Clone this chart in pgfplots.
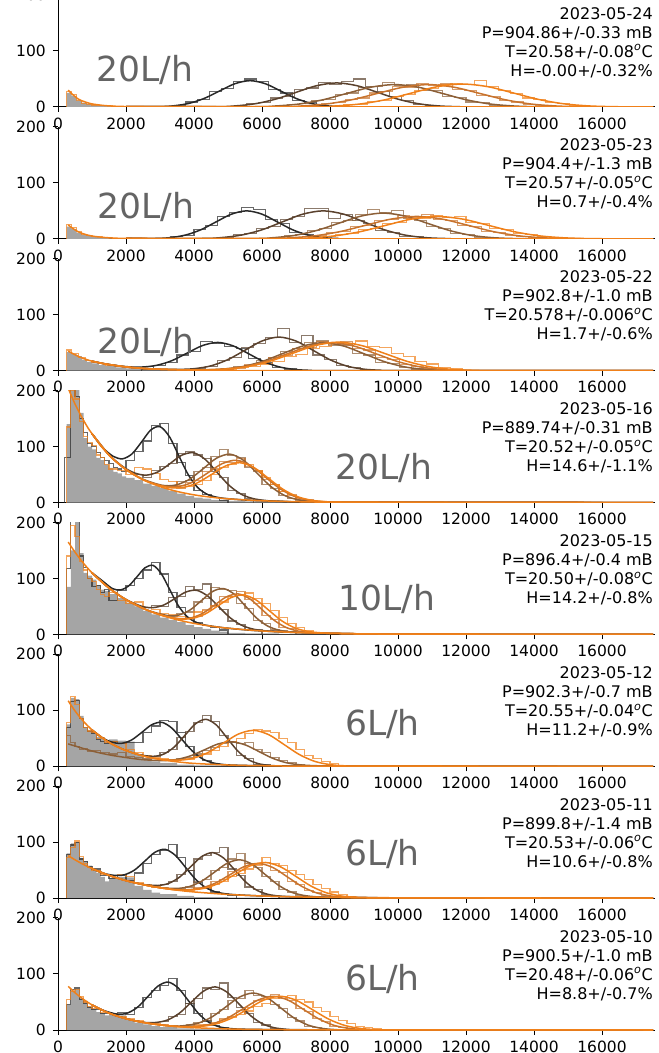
\documentclass[border=0pt]{standalone}
\usepackage{fontspec}
\setmainfont{DejaVu Sans}
\usepackage{pgfplots}
\pgfplotsset{compat=1.18}
\definecolor{c0}{RGB}{40,40,40}
\definecolor{c1}{RGB}{90,65,45}
\definecolor{c2}{RGB}{140,95,55}
\definecolor{c3}{RGB}{200,115,45}
\definecolor{c4}{RGB}{240,128,25}
\definecolor{gfill}{RGB}{165,165,165}
\definecolor{lab}{RGB}{100,100,100}
\pgfplotsset{
  panel/.style={scale only axis, width=596.7pt, height=112pt, anchor=south west,
    xmin=0, xmax=17550, ymin=0, ymax=200,
    axis x line*=bottom, axis y line*=left, axis line style={-, line width=1pt, black},
    xtick={0,2000,...,16000}, ytick={0,100,200},
    tick pos=left, tick align=outside, major tick length=5pt,
    tick style={line width=1pt, black},
    scaled x ticks=false,
    /pgf/number format/1000 sep={}, /pgf/number format/assume math mode=true,
    tick label style={font=\fontsize{15.5}{18}\selectfont, inner sep=1pt},
    xticklabel style={yshift=-4.5pt, text depth=0pt}, yticklabel style={xshift=-6pt},
    clip=true},
  h0/.style={const plot, draw=c0, line width=1.1pt, draw opacity=0.7, mark=none},
  h1/.style={const plot, draw=c1, line width=1.1pt, draw opacity=0.7, mark=none},
  h2/.style={const plot, draw=c2, line width=1.1pt, draw opacity=0.7, mark=none},
  h3/.style={const plot, draw=c3, line width=1.1pt, draw opacity=0.7, mark=none},
  h4/.style={const plot, draw=c4, line width=1.1pt, draw opacity=0.7, mark=none},
  f0/.style={smooth, draw=c0, line width=1.5pt, mark=none},
  f1/.style={smooth, draw=c1, line width=1.5pt, mark=none},
  f2/.style={smooth, draw=c2, line width=1.5pt, mark=none},
  f3/.style={smooth, draw=c3, line width=1.5pt, mark=none},
  f4/.style={smooth, draw=c4, line width=1.5pt, mark=none},
  gr/.style={const plot, fill=gfill, draw=none, mark=none},
}
\newcommand{\info}[4]{\node[anchor=north east, align=right, inner sep=0pt, font=\fontsize{16}{19}\selectfont] at (rel axis cs:0.997,0.893) {#1\\#2\\#3\\#4};}
\newcommand{\lbl}[3]{\node[anchor=base west, inner sep=0pt, text=lab, font=\fontsize{34.5}{36}\selectfont] at (axis cs:#1,#2) {#3};}
\newcommand{\degC}{\textsuperscript{\itshape o}C}
\begin{document}
\begin{tikzpicture}
% ---------------- Panel 1 ----------------
\begin{axis}[panel, at={(58pt,946pt)}]
\addplot[gr] coordinates {(250,0)(250,25)(400,20)(550,12)(700,8)(850,6)(1000,4)(1150,3)(1300,2)(1450,1.5)(1600,1)(2000,0.5)(4000,0)} \closedcycle;
\addplot[h4] coordinates {(250,0)(250,28)(400,22)(550,12)(700,7)(850,5)(1000,3)(1300,2)(1600,1)(2200,0.5)(3000,0)};
\addplot[h0] coordinates {(3400,0)(3400,3)(3750,9)(4100,13)(4450,27)(4800,33)(5150,46)(5500,50)(5850,45)(6200,31)(6550,25)(6900,12)(7250,8)(7600,2)(7950,0)};
\addplot[h1] coordinates {(5200,0)(5200,3)(5550,6)(5900,8)(6250,16)(6600,19)(6950,31)(7300,34)(7650,44)(8000,40)(8350,45)(8700,50)(9050,36)(9400,27)(9750,18)(10100,11)(10450,5)(10800,3)(11150,0)};
\addplot[h2] coordinates {(6400,0)(6400,2)(6750,5)(7100,6)(7450,12)(7800,14)(8150,23)(8500,25)(8850,35)(9200,36)(9550,43)(9900,38)(10250,40)(10600,30)(10950,29)(11300,19)(11650,17)(12000,9)(12350,8)(12700,3)(13050,2)(13400,0)};
\addplot[h3] coordinates {(7400,0)(7400,3)(7750,7)(8100,8)(8450,14)(8800,16)(9150,25)(9500,27)(9850,36)(10200,35)(10550,42)(10900,38)(11250,41)(11600,31)(11950,30)(12300,21)(12650,19)(13000,11)(13350,9)(13700,4)(14050,3)(14400,0)};
\addplot[h4] coordinates {(8400,0)(8400,4)(8750,5)(9100,10)(9450,12)(9800,19)(10150,22)(10500,30)(10850,33)(11200,40)(11550,41)(11900,40)(12250,48)(12600,36)(12950,30)(13300,24)(13650,16)(14000,13)(14350,8)(14700,6)(15050,2)(15400,0)};
\addplot[f0] coordinates {(2000,0.7)(2950,0.5)(3400,2.1)(3850,6.4)(4300,15.3)(4750,28.5)(5200,41.5)(5650,47)(6100,41.5)(6550,28.5)(7000,15.3)(7450,6.4)(7900,2.1)(8350,0.5)(8800,0.1)(17500,0)};
\addplot[f1] coordinates {(2000,0.7)(4600,0.5)(5200,1.9)(5800,5.8)(6400,14)(7000,26.1)(7600,37.9)(8200,43)(8800,37.9)(9400,26.1)(10000,14)(10600,5.8)(11200,1.9)(11800,0.5)(12400,0.1)(17500,0)};
\addplot[f2] coordinates {(2000,0.7)(5700,0.4)(6400,1.8)(7100,5.4)(7800,13)(8500,24.3)(9200,35.3)(9900,40)(10600,35.3)(11300,24.3)(12000,13)(12700,5.4)(13400,1.8)(14100,0.4)(14800,0.1)(17500,0)};
\addplot[f3] coordinates {(2000,0.7)(6400,0.4)(7150,1.8)(7900,5.4)(8650,13)(9400,24.3)(10150,35.3)(10900,40)(11650,35.3)(12400,24.3)(13150,13)(13900,5.4)(14650,1.8)(15400,0.4)(16150,0.1)(17500,0)};
\addplot[f4] coordinates {(2000,0.7)(7400,0.5)(8150,1.8)(8900,5.5)(9650,13.3)(10400,24.9)(11150,36.2)(11900,41)(12650,36.2)(13400,24.9)(14150,13.3)(14900,5.5)(15650,1.8)(16400,0.5)(17150,0.1)(17500,0)};
\addplot[f4] coordinates {(300,30)(400,24)(600,14)(800,9)(1000,5.5)(1300,3)(1600,1.6)(2000,0.8)(3000,0.3)(6000,0.2)(17500,0)};
\lbl{1130}{45}{20L/h}
\info{2023-05-24}{P=904.86+/-0.33 mB}{T=20.58+/-0.08\degC}{H=-0.00+/-0.32\%}
\end{axis}
% ---------------- Panel 2 ----------------
\begin{axis}[panel, at={(58pt,814.14pt)}]
\addplot[gr] coordinates {(250,0)(250,22)(400,18)(550,11)(700,7)(850,5)(1000,3)(1200,2)(1500,1)(2000,0.5)(3000,0)} \closedcycle;
\addplot[h4] coordinates {(250,0)(250,25)(400,20)(550,13)(700,8)(850,6)(1000,4)(1300,2)(1600,1)(2200,0.5)(3000,0)};
\addplot[h0] coordinates {(3300,0)(3300,4)(3650,6)(4000,17)(4350,24)(4700,40)(5050,47)(5400,56)(5750,52)(6100,34)(6450,27)(6800,12)(7150,8)(7500,3)(7850,0)};
\addplot[h1] coordinates {(4800,0)(4800,3)(5150,7)(5500,9)(5850,18)(6200,22)(6550,35)(6900,40)(7250,54)(7600,55)(7950,36)(8300,44)(8650,33)(9000,28)(9350,15)(9700,12)(10050,5)(10400,4)(10750,0)};
\addplot[h2] coordinates {(6300,0)(6300,2)(6650,6)(7000,8)(7350,15)(7700,18)(8050,29)(8400,32)(8750,44)(9100,52)(9450,47)(9800,50)(10150,36)(10500,33)(10850,22)(11200,19)(11550,10)(11900,8)(12250,3)(12600,2)(12950,0)};
\addplot[h3] coordinates {(6850,0)(6850,2)(7200,5)(7550,6)(7900,12)(8250,13)(8600,22)(8950,24)(9300,33)(9650,34)(10000,41)(10350,38)(10700,43)(11050,35)(11400,33)(11750,24)(12100,22)(12450,13)(12800,12)(13150,6)(13500,5)(13850,2)(14200,0)};
\addplot[h4] coordinates {(7450,0)(7450,3)(7800,4)(8150,8)(8500,10)(8850,16)(9200,19)(9550,27)(9900,29)(10250,37)(10600,37)(10950,42)(11300,38)(11650,40)(12000,30)(12350,28)(12700,19)(13050,17)(13400,10)(13750,8)(14100,4)(14450,2)(14800,0)};
\addplot[f0] coordinates {(2000,0.7)(2850,0.6)(3300,2.2)(3750,6.8)(4200,16.2)(4650,30.3)(5100,44.1)(5550,50)(6000,44.1)(6450,30.3)(6900,16.2)(7350,6.8)(7800,2.2)(8250,0.6)(8700,0.1)(17500,0)};
\addplot[f1] coordinates {(2000,0.7)(4200,0.6)(4800,2.2)(5400,6.8)(6000,16.2)(6600,30.3)(7200,44.1)(7800,50)(8400,44.1)(9000,30.3)(9600,16.2)(10200,6.8)(10800,2.2)(11400,0.6)(12000,0.1)(17500,0)};
\addplot[f2] coordinates {(2000,0.7)(5660,0.5)(6310,2)(6960,6.2)(7610,15)(8260,27.9)(8910,40.6)(9560,46)(10210,40.6)(10860,27.9)(11510,15)(12160,6.2)(12810,2)(13460,0.5)(14110,0.1)(17500,0)};
\addplot[f3] coordinates {(2000,0.7)(6050,0.4)(6800,1.8)(7550,5.4)(8300,13)(9050,24.3)(9800,35.3)(10550,40)(11300,35.3)(12050,24.3)(12800,13)(13550,5.4)(14300,1.8)(15050,0.4)(15800,0.1)(17500,0)};
\addplot[f4] coordinates {(2000,0.7)(6650,0.4)(7400,1.8)(8150,5.4)(8900,13)(9650,24.3)(10400,35.3)(11150,40)(11900,35.3)(12650,24.3)(13400,13)(14150,5.4)(14900,1.8)(15650,0.4)(16400,0.1)(17500,0)};
\addplot[f4] coordinates {(300,25)(400,20)(600,12.5)(800,8)(1000,5)(1300,2.8)(1600,1.5)(2000,0.7)(3000,0.3)(6000,0.2)(17500,0)};
\lbl{1150}{37}{20L/h}
\info{2023-05-23}{P=904.4+/-1.3 mB}{T=20.57+/-0.05\degC}{H=0.7+/-0.4\%}
\end{axis}
% ---------------- Panel 3 ----------------
\begin{axis}[panel, at={(58pt,682.28pt)}]
\addplot[gr] coordinates {(250,0)(250,33)(400,30)(550,26)(700,20)(850,16)(1000,13)(1200,10)(1400,8)(1700,6)(2000,4)(2500,2)(3000,1)(4000,0.3)(5000,0)} \closedcycle;
\addplot[h4] coordinates {(250,0)(250,37)(400,30)(600,24)(800,19)(1000,15)(1200,13)(1400,10)(1700,8)(2000,6)(2400,4)(3000,2)(3800,0)};
\addplot[h0] coordinates {(2450,0)(2450,3)(2800,9)(3150,14)(3500,28)(3850,35)(4200,52)(4550,48)(4900,44)(5250,40)(5600,22)(5950,15)(6300,6)(6650,3)(7000,0)};
\addplot[h1] coordinates {(4000,0)(4000,4)(4350,7)(4700,18)(5050,24)(5400,42)(5750,48)(6100,60)(6450,76)(6800,50)(7150,63)(7500,28)(7850,20)(8200,9)(8550,6)(8900,2)(9250,0)};
\addplot[h2] coordinates {(4800,0)(4800,2)(5150,8)(5500,9)(5850,19)(6200,23)(6550,35)(6900,39)(7250,50)(7600,53)(7950,45)(8300,46)(8650,31)(9000,28)(9350,15)(9700,13)(10050,5)(10400,3)(10750,0)};
\addplot[h3] coordinates {(4800,0)(4800,3)(5150,4)(5500,11)(5850,13)(6200,24)(6550,27)(6900,40)(7250,42)(7600,52)(7950,47)(8300,52)(8650,40)(9000,37)(9350,24)(9700,20)(10050,11)(10400,8)(10750,3)(11100,2)(11450,0)};
\addplot[h4] coordinates {(4900,0)(4900,2)(5250,5)(5600,7)(5950,12)(6300,16)(6650,25)(7000,29)(7350,40)(7700,44)(8050,50)(8400,48)(8750,53)(9100,43)(9450,41)(9800,31)(10150,25)(10500,16)(10850,12)(11200,6)(11550,3)(11900,0)};
\addplot[f0] coordinates {(1000,17)(1400,12)(2000,7.3)(2450,6.5)(2900,9.6)(3350,18)(3800,31.5)(4250,44.9)(4700,50.5)(5150,44.4)(5600,30.5)(6050,16.3)(6500,6.9)(6950,2.3)(7400,0.7)(7850,0.2)(17500,0)};
\addplot[f1] coordinates {(1000,17)(1400,12)(2000,6.7)(2500,4)(3000,2.6)(3500,2.3)(4000,3.6)(4500,8.7)(5000,19.9)(5500,36.6)(6000,53.1)(6500,60.1)(7000,53)(7500,36.5)(8000,19.6)(8500,8.2)(9000,2.7)(9500,0.8)(10000,0.2)(17500,0)};
\addplot[f2] coordinates {(1000,17)(1400,12)(2000,6.7)(2500,4)(3000,2.6)(3600,1.6)(4200,1.4)(4800,2.7)(5400,7)(6000,16.4)(6600,30.4)(7200,44.1)(7800,50)(8400,44.1)(9000,30.3)(9600,16.2)(10200,6.8)(10800,2.2)(11400,0.6)(12000,0.1)(17500,0)};
\addplot[f3] coordinates {(1000,17)(1400,12)(2000,6.7)(2500,4)(3000,2.6)(3600,1.6)(4150,1.5)(4800,2.7)(5450,7)(6100,16.3)(6750,30.3)(7400,44.1)(8050,50)(8700,44.1)(9350,30.3)(10000,16.2)(10650,6.8)(11300,2.2)(11950,0.6)(12600,0.1)(17500,0)};
\addplot[f4] coordinates {(1000,17)(1400,12)(2000,6.7)(2500,4)(3000,2.6)(3600,1.6)(4200,1.4)(4875,2.6)(5550,7.1)(6225,16.7)(6900,31)(7575,45)(8250,51)(8925,45)(9600,31)(10275,16.6)(10950,6.9)(11625,2.2)(12300,0.6)(12975,0.1)(17500,0)};
\addplot[f4] coordinates {(300,35)(500,28.5)(700,23)(1000,17)(1400,12)(1800,8.5)(2200,5.7)(2800,3.2)(3500,1.7)(4500,0.6)(6000,0.2)(17500,0)};
\lbl{1150}{31.6}{20L/h}
\info{2023-05-22}{P=902.8+/-1.0 mB}{T=20.578+/-0.006\degC}{H=1.7+/-0.6\%}
\end{axis}
% ---------------- Panel 4 ----------------
\begin{axis}[panel, at={(58pt,550.42pt)}]
\addplot[gr] coordinates {(250,0)(250,140)(375,230)(500,215)(625,160)(750,115)(875,100)(1000,95)(1125,80)(1250,76)(1375,68)(1500,62)(1625,55)(1750,52)(1875,47)(2000,44)(2250,40)(2500,34)(2750,30)(3000,26)(3250,21)(3500,16)(3750,12)(4000,9)(4250,7)(4500,5)(5000,3)(5500,2)(6000,1)(7000,0.5)(8000,0)} \closedcycle;
\addplot[h0] coordinates {(200,0)(200,80)(375,215)(500,190)(625,150)(750,125)(875,105)(1000,100)(1125,90)(1250,80)(1375,75)(1500,70)(1625,62)(1750,60)(1875,55)(2000,75)(2250,92)(2500,110)(2750,138)(3000,142)(3250,105)(3500,72)(3750,48)(4000,22)(4250,14)(4500,9)(4750,4)(5000,0)};
\addplot[h1] coordinates {(2250,50)(2500,45)(2750,58)(3000,65)(3250,70)(3500,88)(3750,92)(4000,85)(4250,78)(4500,55)(4750,44)(5000,22)(5250,17)(5500,8)(5750,0)};
\addplot[h2] coordinates {(3000,30)(3250,28)(3500,37)(3750,40)(4000,56)(4250,62)(4500,82)(4750,94)(5000,84)(5250,80)(5500,62)(5750,55)(6000,33)(6250,25)(6500,12)(6750,8)(7000,4)(7250,0)};
\addplot[h3] coordinates {(3000,29)(3250,30)(3500,25)(3750,36)(4000,40)(4250,55)(4500,60)(4750,74)(5000,72)(5250,78)(5500,65)(5750,58)(6000,42)(6250,33)(6500,19)(6750,14)(7000,6)(7250,5)(7500,2)(7750,0)};
\addplot[h4] coordinates {(250,0)(250,135)(375,200)(500,185)(625,145)(750,118)(875,108)(1000,102)(1125,85)(1250,80)(1375,68)(1500,60)(1750,58)(2000,50)(2250,62)(2500,60)(2750,52)(3000,42)(3250,38)(3500,30)(3750,28)(4000,33)(4250,40)(4500,50)(4750,62)(5000,68)(5250,74)(5500,68)(5750,58)(6000,44)(6250,33)(6500,20)(6750,13)(7000,7)(7250,4)(7500,2)(7750,1)(8000,0)};
\addplot[f0] coordinates {(1000,123)(1300,99)(1625,82.5)(1900,78.2)(2175,86.9)(2450,107.6)(2725,129.4)(3000,135.6)(3275,117.8)(3550,84.1)(3825,50.4)(4100,27.4)(4375,15.2)(4650,9.8)(4925,7.3)(5500,4.6)(6500,2.2)(8000,0.8)(17500,0)};
\addplot[f1] coordinates {(1000,123)(1500,85.5)(1900,64.6)(2230,53.4)(2580,48.9)(2930,54.5)(3280,68.9)(3630,84.3)(3980,89)(4330,77.1)(4680,53.9)(5030,30.9)(5380,15.2)(5730,7.2)(6080,3.9)(6430,2.6)(8000,0.8)(17500,0)};
\addplot[f2] coordinates {(1000,123)(1500,85)(2000,59)(2500,41.7)(3060,30.9)(3460,31.3)(3860,41.3)(4260,60)(4660,79.2)(5060,86.4)(5460,75.4)(5860,52.1)(6260,28.7)(6660,12.8)(7060,5)(7460,2)(7860,1)(17500,0)};
\addplot[f3] coordinates {(1000,123)(1500,85)(2000,59)(2500,41)(3125,29.2)(3550,28.7)(3975,36.8)(4400,52.8)(4825,69.4)(5250,75.6)(5675,65.9)(6100,45.5)(6525,24.9)(6950,11.1)(7375,4.3)(7800,1.7)(8225,0.8)(17500,0)};
\addplot[f4] coordinates {(1000,123)(1500,85)(2000,59)(2600,38)(3225,27.2)(3650,26.8)(4075,34.5)(4500,49.6)(4925,65.3)(5350,71.2)(5775,62)(6200,42.8)(6625,23.4)(7050,10.4)(7475,4)(7900,1.5)(8325,0.7)(17500,0)};
\addplot[f4] coordinates {(300,204)(400,190)(500,176)(625,161)(750,147)(875,134)(1000,123)(1250,102)(1500,85)(1750,71)(2000,59)(2500,41)(3000,28.6)(3500,19.9)(4000,13.8)(4500,9.6)(5000,6.7)(6000,3.2)(7000,1.6)(8000,0.75)(10000,0.2)(17500,0)};
\lbl{8150}{41}{20L/h}
\info{2023-05-16}{P=889.74+/-0.31 mB}{T=20.52+/-0.05\degC}{H=14.6+/-1.1\%}
\end{axis}
% ---------------- Panel 5 ----------------
\begin{axis}[panel, at={(58pt,418.56pt)}]
\addplot[gr] coordinates {(250,0)(250,85)(375,150)(500,205)(625,145)(750,110)(875,105)(1000,98)(1125,88)(1250,80)(1375,78)(1500,72)(1750,65)(2000,57)(2250,50)(2500,42)(2750,36)(3000,30)(3250,26)(3500,22)(3750,17)(4000,13)(4250,10)(4500,7)(4750,5)(5000,3)(5500,2)(6500,1)(8000,0)} \closedcycle;
\addplot[h0] coordinates {(250,0)(250,118)(375,210)(500,205)(625,140)(750,120)(875,100)(1000,85)(1125,88)(1250,75)(1375,80)(1500,60)(1750,78)(2000,88)(2250,100)(2500,115)(2750,128)(3000,108)(3250,75)(3500,48)(3750,30)(4000,22)(4250,16)(4500,12)(4750,8)(5000,0)};
\addplot[h1] coordinates {(2500,48)(2750,52)(3000,50)(3250,66)(3500,68)(3750,85)(4000,80)(4250,90)(4500,52)(4750,45)(5000,24)(5250,18)(5500,9)(5750,8)(6000,0)};
\addplot[h2] coordinates {(3250,32)(3500,38)(3750,40)(4000,58)(4250,64)(4500,84)(4750,80)(5000,78)(5250,56)(5500,46)(5750,25)(6000,19)(6250,8)(6500,7)(6750,3)(7000,0)};
\addplot[h3] coordinates {(3500,27)(3750,31)(4000,32)(4250,45)(4500,50)(4750,67)(5000,68)(5250,76)(5500,62)(5750,55)(6000,34)(6250,27)(6500,13)(6750,10)(7000,4)(7250,3)(7500,0)};
\addplot[h4] coordinates {(250,0)(250,140)(375,195)(500,175)(625,130)(750,115)(875,100)(1000,95)(1125,80)(1250,72)(1375,68)(1500,75)(1750,60)(2000,55)(2250,58)(2500,48)(2750,45)(3000,38)(3250,35)(3500,32)(3750,30)(4000,40)(4250,42)(4500,52)(4750,58)(5000,68)(5250,70)(5500,74)(5750,64)(6000,55)(6250,42)(6500,30)(6750,20)(7000,12)(7250,7)(7500,4)(7750,2)(8000,0)};
\addplot[f0] coordinates {(1000,110)(1300,96)(1600,81.9)(1840,79.5)(2080,86.6)(2320,102.7)(2560,119.1)(2800,123.2)(3040,108.3)(3280,80.8)(3520,53.2)(3760,34)(4000,23.4)(4240,18)(4480,15.1)(5000,11.1)(6000,6.2)(8000,2)(10000,0.6)(17500,0)};
\addplot[f1] coordinates {(1000,110)(1500,82.8)(2000,62.5)(2455,50.4)(2780,47.8)(3105,52.4)(3430,63.7)(3755,75.6)(4080,78.8)(4405,68.5)(4730,49.3)(5055,30.2)(5380,17)(5705,10)(6030,6.8)(6355,5.2)(7000,3.5)(8000,2)(10000,0.6)(17500,0)};
\addplot[f2] coordinates {(1000,110)(1500,82.8)(2000,62.1)(2600,44)(3235,33.6)(3560,34.8)(3885,43.7)(4210,59.9)(4535,76.3)(4860,82)(5185,71.8)(5510,50.8)(5835,29.6)(6160,15.2)(6485,7.8)(6810,4.7)(7135,3.5)(8000,2)(10000,0.6)(17500,0)};
\addplot[f3] coordinates {(1000,110)(1500,82.8)(2000,62.1)(2600,44)(3100,33.5)(3550,28.3)(3900,29.3)(4250,37.5)(4600,52.1)(4950,67)(5300,72.3)(5650,63.2)(6000,44.4)(6350,25.6)(6700,12.7)(7050,6.2)(7400,3.5)(7750,2.4)(10000,0.6)(17500,0)};
\addplot[f4] coordinates {(1000,110)(1500,82.8)(2000,62.1)(2600,44)(3100,33.5)(3575,27.8)(3950,28.6)(4325,36.4)(4700,50.8)(5075,65.3)(5450,70.5)(5825,61.6)(6200,43.2)(6575,24.6)(6950,12)(7325,5.6)(7700,3)(8075,2)(10000,0.6)(17500,0)};
\addplot[f4] coordinates {(300,165)(500,147)(750,127)(1000,110)(1250,95.6)(1500,82.8)(1750,71.7)(2000,62.1)(2500,46.6)(3000,35)(3500,26.3)(4000,19.7)(4500,14.8)(5000,11.1)(6000,6.2)(7000,3.5)(8000,2)(10000,0.6)(17500,0)};
\lbl{8240}{43}{10L/h}
\info{2023-05-15}{P=896.4+/-0.4 mB}{T=20.50+/-0.08\degC}{H=14.2+/-0.8\%}
\end{axis}
% ---------------- Panel 6 ----------------
\begin{axis}[panel, at={(58pt,286.7pt)}]
\addplot[gr] coordinates {(250,0)(250,75)(375,122)(500,120)(625,90)(750,68)(875,65)(1000,60)(1125,52)(1250,50)(1375,45)(1500,48)(1750,46)(2000,44)(2250,22)(2500,14)(2750,9)(3000,6)(3500,3)(4000,1.5)(5000,0.5)(6000,0)} \closedcycle;
\addplot[h0] coordinates {(250,0)(250,70)(375,115)(500,118)(625,85)(750,70)(875,62)(1000,58)(1125,48)(1250,45)(1375,40)(1500,44)(1750,40)(2000,42)(2250,42)(2500,60)(2750,72)(3000,82)(3250,80)(3500,60)(3750,35)(4000,20)(4250,10)(4500,5)(4750,3)(5000,0)};
\addplot[h1] coordinates {(2750,18)(3000,24)(3250,30)(3500,52)(3750,62)(4000,78)(4250,90)(4500,80)(4750,55)(5000,42)(5250,20)(5500,14)(5750,4)(6000,3)(6250,0)};
\addplot[h2] coordinates {(250,0)(250,55)(375,42)(500,36)(625,30)(750,32)(875,26)(1000,28)(1250,24)(1500,22)(1750,25)(2000,17)(2250,15)(2500,13)(2750,10)(3000,11)(3250,12)(3500,14)(3750,16)(4000,22)(4250,28)(4500,33)(4750,40)(5000,45)(5250,40)(5500,42)(5750,30)(6000,24)(6250,15)(6500,11)(6750,6)(7000,3)(7250,1)(7500,0)};
\addplot[h4] coordinates {(250,0)(250,78)(375,125)(500,110)(625,85)(750,70)(875,63)(1000,60)(1125,50)(1250,52)(1375,42)(1500,45)(1750,40)(2000,30)(2250,24)(2500,20)(2750,15)(3000,13)(3250,11)(3500,12)(3750,13)(4000,17)(4250,22)(4500,28)(4750,35)(5000,44)(5250,50)(5500,58)(5750,65)(6000,63)(6250,60)(6500,50)(6750,42)(7000,30)(7250,20)(7500,14)(7750,8)(8000,5)(8250,2)(8500,1)(8750,0)};
\addplot[f0] coordinates {(1000,65)(1250,52.7)(1550,43.8)(1850,40.9)(2150,46.5)(2450,59.8)(2750,74)(3050,78.6)(3350,68.1)(3650,47.6)(3950,27.3)(4250,13.3)(4550,6.2)(4850,3.3)(5150,2.1)(6000,1)(8000,0.2)(17500,0)};
\addplot[f1] coordinates {(1000,65)(1500,42.8)(2000,28.2)(2400,20.6)(2800,17.8)(3110,21.8)(3420,34.5)(3730,55.1)(4040,75.7)(4350,83.9)(4660,73.6)(4970,50.8)(5280,27.8)(5590,12.2)(5900,4.6)(6210,1.7)(6520,0.8)(8000,0.2)(17500,0)};
\addplot[f2] coordinates {(300,40)(1000,27.3)(1500,20.5)(2000,15.6)(2500,11.8)(3100,10.2)(3500,12.3)(3900,18.7)(4300,29.2)(4700,39.7)(5100,43.8)(5500,38.4)(5900,26.7)(6300,14.7)(6700,6.6)(7100,2.7)(7500,1.2)(7900,0.7)(9000,0.3)(17500,0)};
\addplot[f4] coordinates {(1000,65)(1500,42.8)(2000,28.1)(2500,18.5)(3000,12.7)(3500,10.8)(3950,14)(4400,24.2)(4850,40.8)(5300,57.4)(5750,64.2)(6200,56.4)(6650,38.8)(7100,20.9)(7550,8.8)(8000,3)(8450,0.8)(8900,0.2)(17500,0)};
\addplot[f4] coordinates {(300,117)(500,98.9)(750,80.2)(1000,65)(1250,52.7)(1500,42.7)(1750,34.6)(2000,28.1)(2500,18.4)(3000,12.1)(3500,8)(4000,5.2)(5000,2.3)(6000,1)(8000,0.2)(17500,0)};
\lbl{8440}{55}{6L/h}
\info{2023-05-12}{P=902.3+/-0.7 mB}{T=20.55+/-0.04\degC}{H=11.2+/-0.9\%}
\end{axis}
% ---------------- Panel 7 ----------------
\begin{axis}[panel, at={(58pt,154.84pt)}]
\addplot[gr] coordinates {(250,0)(250,80)(375,98)(500,100)(625,72)(750,66)(875,58)(1000,50)(1125,45)(1250,38)(1375,30)(1500,36)(1750,38)(2000,37)(2250,22)(2500,15)(2750,10)(3000,7)(3500,4)(4000,2)(5000,0.8)(6000,0)} \closedcycle;
\addplot[h0] coordinates {(250,0)(250,78)(375,95)(500,100)(625,70)(750,65)(875,56)(1000,52)(1250,40)(1500,35)(1750,40)(2000,32)(2250,45)(2500,62)(2750,78)(3000,85)(3250,96)(3500,72)(3750,50)(4000,28)(4250,20)(4500,11)(4750,8)(5000,5)(5250,0)};
\addplot[h1] coordinates {(3000,24)(3250,30)(3500,42)(3750,50)(4000,70)(4250,76)(4500,82)(4750,90)(5000,52)(5250,40)(5500,20)(5750,15)(6000,6)(6250,4)(6500,0)};
\addplot[h2] coordinates {(3500,17)(3750,20)(4000,30)(4250,34)(4500,50)(4750,55)(5000,70)(5250,80)(5500,62)(5750,55)(6000,38)(6250,30)(6500,16)(6750,11)(7000,5)(7250,3)(7500,0)};
\addplot[h3] coordinates {(3750,15)(4000,19)(4250,20)(4500,30)(4750,33)(5000,48)(5250,50)(5500,62)(5750,60)(6000,64)(6250,50)(6500,46)(6750,30)(7000,25)(7250,13)(7500,10)(7750,4)(8000,3)(8250,0)};
\addplot[h4] coordinates {(250,0)(250,72)(375,90)(500,102)(625,75)(750,62)(875,55)(1000,50)(1250,43)(1500,40)(1750,42)(2000,39)(2250,28)(2500,25)(2750,20)(3000,19)(3250,16)(3500,14)(3750,13)(4000,17)(4250,18)(4500,24)(4750,30)(5000,38)(5250,44)(5500,52)(5750,58)(6000,72)(6250,62)(6500,58)(6750,50)(7000,42)(7250,33)(7500,24)(7750,17)(8000,11)(8250,6)(8500,3)(8750,1.5)(9000,0)};
\addplot[f0] coordinates {(1000,52.8)(1300,45)(1650,40.7)(1950,41.7)(2250,50.2)(2550,66)(2850,81.9)(3150,87.2)(3450,76.5)(3750,55.1)(4050,33.5)(4350,18.7)(4650,11)(4950,7.6)(5250,6)(6000,3.9)(7000,2.3)(9000,0.8)(17500,0)};
\addplot[f1] coordinates {(1000,52.8)(1500,40.7)(2000,31.5)(2500,24.5)(2925,22.6)(3250,26.3)(3575,37.5)(3900,56)(4225,74.2)(4550,81.3)(4875,71.4)(5200,50.2)(5525,28.7)(5850,14.1)(6175,6.8)(6500,3.8)(6825,2.7)(8000,1.4)(10000,0.5)(17500,0)};
\addplot[f2] coordinates {(1000,52.8)(1500,40.7)(2000,31.3)(2500,24.2)(3000,18.8)(3475,17.3)(3850,20.5)(4225,30.3)(4600,46.3)(4975,62.3)(5350,68.5)(5725,60.1)(6100,41.9)(6475,23.5)(6850,11)(7225,4.9)(7600,2.4)(7975,1.5)(10000,0.5)(17500,0)};
\addplot[f3] coordinates {(1000,52.8)(1500,40.7)(2000,31.3)(2500,24.2)(3000,18.6)(3400,15.5)(3775,14.9)(4200,17.8)(4625,26.8)(5050,41.6)(5475,56.3)(5900,62.1)(6325,54.5)(6750,37.8)(7175,20.9)(7600,9.5)(8025,3.9)(8450,1.7)(8875,1)(10000,0.5)(17500,0)};
\addplot[f4] coordinates {(1000,52.8)(1500,40.7)(2000,31.3)(2500,24.2)(3000,18.6)(3450,15)(3850,14.6)(4300,17.6)(4750,27)(5200,42.3)(5650,57.6)(6100,63.7)(6550,55.8)(7000,38.7)(7450,21.3)(7900,9.5)(8350,3.7)(8800,1.6)(9250,0.8)(17500,0)};
\addplot[f4] coordinates {(300,76)(500,68.5)(750,60.1)(1000,52.8)(1250,46.4)(1500,40.7)(1750,35.7)(2000,31.3)(2500,24.2)(3000,18.6)(3500,14.3)(4000,11.1)(5000,6.6)(6000,3.9)(7000,2.3)(8000,1.4)(10000,0.5)(17500,0)};
\lbl{8440}{59}{6L/h}
\info{2023-05-11}{P=899.8+/-1.4 mB}{T=20.53+/-0.06\degC}{H=10.6+/-0.8\%}
\end{axis}
% ---------------- Panel 8 ----------------
\begin{axis}[panel, at={(58pt,23pt)}]
\addplot[gr] coordinates {(250,0)(250,45)(375,70)(500,73)(625,58)(750,52)(875,42)(1000,38)(1125,32)(1250,30)(1375,26)(1500,28)(1750,26)(2000,18)(2250,13)(2500,10)(2750,7)(3000,5)(3500,3)(4000,1.5)(5000,0.5)(6000,0)} \closedcycle;
\addplot[h0] coordinates {(250,0)(250,45)(375,72)(500,75)(625,55)(750,48)(875,40)(1000,36)(1250,30)(1500,30)(1750,32)(2000,28)(2250,40)(2500,58)(2750,70)(3000,80)(3250,92)(3500,70)(3750,48)(4000,30)(4250,16)(4500,8)(4750,4)(5000,0)};
\addplot[h1] coordinates {(3000,15)(3250,24)(3500,28)(3750,48)(4000,56)(4250,75)(4500,72)(4750,84)(5000,58)(5250,40)(5500,30)(5750,14)(6000,9)(6250,3)(6500,0)};
\addplot[h2] coordinates {(3750,9)(4000,14)(4250,17)(4500,30)(4750,36)(5000,52)(5250,56)(5500,70)(5750,62)(6000,60)(6250,45)(6500,38)(6750,22)(7000,16)(7250,7)(7500,4)(7750,0)};
\addplot[h3] coordinates {(4250,10)(4500,12)(4750,20)(5000,24)(5250,35)(5500,40)(5750,53)(6000,55)(6250,63)(6500,56)(6750,52)(7000,39)(7250,33)(7500,20)(7750,15)(8000,7)(8250,5)(8500,0)};
\addplot[h4] coordinates {(250,0)(250,55)(375,68)(500,72)(625,60)(750,50)(875,42)(1000,38)(1250,32)(1500,30)(1750,24)(2000,20)(2250,16)(2500,14)(2750,11)(3000,10)(3250,8)(3500,7)(3750,7)(4000,9)(4250,10)(4500,13)(4750,18)(5000,22)(5250,28)(5500,34)(5750,42)(6000,48)(6250,56)(6500,60)(6750,62)(7000,55)(7250,50)(7500,40)(7750,33)(8000,24)(8250,17)(8500,11)(8750,7)(9000,4)(9250,2)(9500,0)};
\addplot[f0] coordinates {(1000,44.8)(1300,35.7)(1740,28.3)(2040,30.2)(2340,40.7)(2640,59.5)(2940,78.4)(3240,85.6)(3540,74.8)(3840,52)(4140,29)(4440,13.5)(4740,5.7)(5040,2.7)(5340,1.6)(6000,0.9)(8000,0.2)(17500,0)};
\addplot[f1] coordinates {(1000,44.8)(1500,30.1)(2000,20.3)(2500,13.8)(2870,13.4)(3220,17.8)(3570,30)(3920,49.6)(4270,69)(4620,77)(4970,67.6)(5320,46.7)(5670,25.3)(6020,10.9)(6370,3.9)(6720,1.3)(7070,0.6)(9000,0.1)(17500,0)};
\addplot[f2] coordinates {(1000,44.8)(1500,30.1)(2000,20.2)(2500,13.6)(3000,9.2)(3400,6.8)(3740,8)(4140,12.5)(4540,23.8)(4940,41.4)(5340,58.8)(5740,66)(6140,58.2)(6540,40)(6940,21.5)(7340,9.1)(7740,3.1)(8140,0.8)(8540,0.2)(17500,0)};
\addplot[f3] coordinates {(1000,44.8)(1500,30.1)(2000,20.2)(2500,13.6)(3000,9.1)(3500,6.3)(4080,6.5)(4530,10.9)(4980,21.2)(5430,37.4)(5880,53.4)(6330,60.2)(6780,53)(7230,36.4)(7680,19.5)(8130,8.1)(8580,2.7)(9030,0.7)(9480,0.1)(17500,0)};
\addplot[f4] coordinates {(1000,44.8)(1500,30.1)(2000,20.2)(2500,13.6)(3000,9.1)(3600,5.8)(4155,6.2)(4630,10.6)(5105,21.1)(5580,37.4)(6055,53.5)(6530,60.3)(7005,53.1)(7480,36.5)(7955,19.6)(8430,8.2)(8905,2.7)(9380,0.7)(9855,0.1)(17500,0)};
\addplot[f4] coordinates {(300,78)(500,66.6)(750,54.6)(1000,44.8)(1250,36.7)(1500,30.1)(1750,24.7)(2000,20.2)(2500,13.6)(3000,9.1)(3500,6.2)(4000,4.1)(5000,1.9)(6000,0.85)(8000,0.2)(17500,0)};
\lbl{8440}{70}{6L/h}
\info{2023-05-10}{P=900.5+/-1.0 mB}{T=20.48+/-0.06\degC}{H=8.8+/-0.7\%}
\end{axis}
\pgfresetboundingbox
\useasboundingbox (0,0) rectangle (659pt,1053pt);
\end{tikzpicture}
\end{document}
